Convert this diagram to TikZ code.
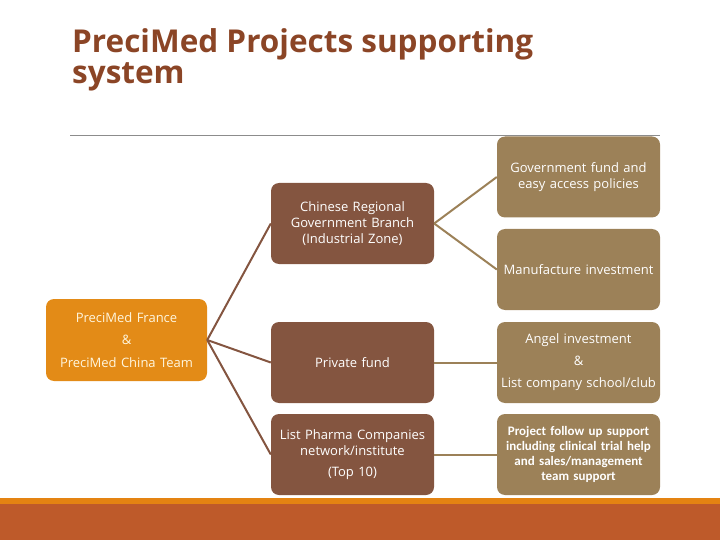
\documentclass[tikz,border=0pt]{standalone}
\usepackage{fontspec}
\setmainfont{Open Sans}
\newfontfamily\condensedbold{Carlito}
\usepackage{tikz}
\definecolor{titlebrown}{RGB}{139,69,38}
\definecolor{nodebrown}{RGB}{132,85,64}
\definecolor{nodetan}{RGB}{156,129,88}
\definecolor{rootorange}{RGB}{227,139,23}
\definecolor{roottext}{RGB}{255,246,222}
\definecolor{barorange}{RGB}{228,131,18}
\definecolor{bardark}{RGB}{190,90,42}
\definecolor{rulegray}{RGB}{140,140,140}

\begin{document}
\begin{tikzpicture}[x=1pt, y=-1pt,
        cardbox/.style={rounded corners=8pt, minimum width=163pt, minimum height=81pt,
            text width=161pt, align=center, text=white, inner sep=0pt,
            font=\fontsize{13}{16}\selectfont},
        brownbox/.style={cardbox, fill=nodebrown},
        tanbox/.style={cardbox, fill=nodetan},
        brownline/.style={draw=nodebrown, line width=2pt},
        tanline/.style={draw=nodetan, line width=2pt}]
        \useasboundingbox (0, 0) rectangle (720, 540);
        \fill[barorange] (0, 497.5) rectangle (720, 504);
        \fill[bardark] (0, 504) rectangle (720, 540);
        \draw[rulegray, line width=1pt] (70, 136) -- (660, 136);
        \node[anchor=north west, inner sep=0pt, align=left, text=titlebrown,
            font=\fontsize{31.5}{31}\selectfont\bfseries] (title) at (72, 28.5)
            {PreciMed Projects supporting\\system};

        \node[cardbox, fill=rootorange, minimum width=161pt, minimum height=82pt,
            text width=159pt, text=roottext] (team) at (126.5, 340)
            {PreciMed France\\[6.5pt]\&\\[6.5pt]PreciMed China Team};

        \node[brownbox] (branch) at (352.5, 223.5) {Chinese Regional\\Government Branch\\(Industrial Zone)};
        \node[brownbox] (private) at (352.5, 362.5) {Private fund};
        \node[brownbox] (pharma) at (352.5, 454.5) {List Pharma Companies\\network/institute\\[5pt](Top 10)};

        \node[tanbox] (govfund) at (578.5, 177) {Government fund and\\easy access policies};
        \node[tanbox] (manufacture) at (578.5, 269.5) {Manufacture investment};
        \node[tanbox] (angel) at (578.5, 362.5) {Angel investment\\[6pt]\&\\[6pt]List company school/club};
        \node[tanbox, font=\fontsize{13}{15}\selectfont\condensedbold\bfseries] (followup) at (578.5, 454.5)
            {Project follow up support\\including clinical trial help\\and sales/management\\team support};

        \draw[brownline] (team.east) -- (branch.west);
        \draw[brownline] (team.east) -- (private.west);
        \draw[brownline] (team.east) -- (pharma.west);
        \draw[tanline] (branch.east) -- (govfund.west);
        \draw[tanline] (branch.east) -- (manufacture.west);
        \draw[tanline] (private.east) -- (angel.west);
        \draw[tanline] (pharma.east) -- (followup.west);
\end{tikzpicture}
\end{document}
